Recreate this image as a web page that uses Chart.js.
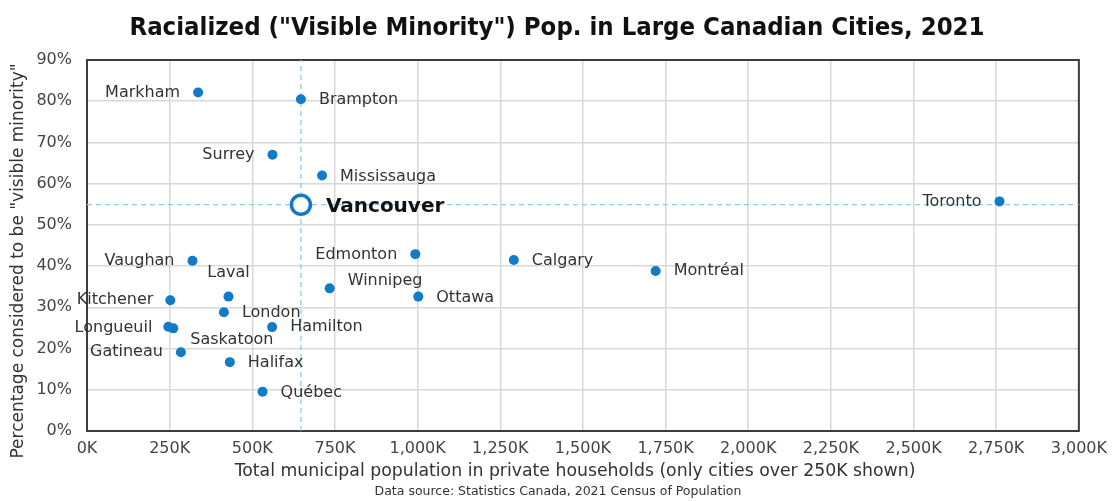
<!DOCTYPE html>
<html>
<head>
<meta charset="utf-8">
<script src="https://cdn.jsdelivr.net/npm/chart.js@4.4.1/dist/chart.umd.min.js"></script>
<style>
  body { margin: 0; background: #fff; }
  #wrap { width: 1115px; height: 501px; }
</style>
</head>
<body>
<div id="wrap"><canvas id="chart" width="1115" height="501"></canvas></div>
<script>
// Cities over 250K, population in thousands, share racialized (%)
const cities = ['Markham', 'Brampton', 'Surrey', 'Mississauga', 'Toronto', 'Edmonton', 'Calgary',
  'Montréal', 'Vaughan', 'Laval', 'Winnipeg', 'Ottawa', 'Kitchener', 'London', 'Longueuil',
  'Saskatoon', 'Hamilton', 'Gatineau', 'Halifax', 'Québec'];
const populationK = [336, 647, 561, 711, 2760, 993, 1291, 1720, 319, 428, 734, 1002, 252, 414, 246,
  261, 560, 284, 432, 531];
const visibleMinorityPct = [82.1, 80.5, 67.0, 62.0, 55.7, 42.9, 41.5, 38.8, 41.3, 32.6, 34.6, 32.6,
  31.7, 28.8, 25.3, 24.9, 25.2, 19.1, 16.7, 9.5];

// highlighted city
const focusCity = 'Vancouver';
const focusPopK = 647;
const focusPct = 54.9;

// axis ticks
const xTicksK = [0, 250, 500, 750, 1000, 1250, 1500, 1750, 2000, 2250, 2500, 2750, 3000];
const yTicksPct = [0, 10, 20, 30, 40, 50, 60, 70, 80, 90];

// how each name sits next to its dot: [textAlign, dx, dy]
const labelPlace = {
  Markham: ['right', -18, 0], Brampton: ['left', 18, 1], Surrey: ['right', -18, 0],
  Mississauga: ['left', 18, 1], Toronto: ['right', -18, 0], Edmonton: ['right', -18, 1],
  Calgary: ['left', 18, 1], 'Montréal': ['left', 18, 0], Vaughan: ['right', -18, 0],
  Laval: ['center', 0, -24], Winnipeg: ['left', 18, -8], Ottawa: ['left', 18, 1],
  Kitchener: ['right', -17, 0], London: ['left', 18, 1], Longueuil: ['right', -16, 1],
  Saskatoon: ['left', 17, 11], Hamilton: ['left', 18, 0], Gatineau: ['right', -18, 0],
  Halifax: ['left', 18, 1], 'Québec': ['left', 18, 1]
};

const BLUE = '#127bc7';
const FONT = '"DejaVu Sans", sans-serif';

const points = cities.map((c, i) => ({ x: populationK[i], y: visibleMinorityPct[i] }));

// frame, city names, titles
const decor = {
  id: 'decor',
  beforeDatasetsDraw(chart) {
    const a = chart.chartArea, ctx = chart.ctx;
    ctx.save();
    ctx.strokeStyle = '#3c3c3c';
    ctx.lineWidth = 2;
    ctx.strokeRect(a.left, a.top, a.right - a.left, a.bottom - a.top);
    ctx.restore();
  },
  afterDatasetsDraw(chart) {
    const ctx = chart.ctx;
    ctx.save();
    ctx.textBaseline = 'middle';
    ctx.fillStyle = '#333';
    ctx.font = '16px ' + FONT;
    chart.getDatasetMeta(0).data.forEach((pt, i) => {
      const p = labelPlace[cities[i]];
      ctx.textAlign = p[0];
      ctx.fillText(cities[i], pt.x + p[1], pt.y + p[2]);
    });
    const v = chart.getDatasetMeta(1).data[0];
    ctx.font = 'bold 20px ' + FONT;
    ctx.fillStyle = '#111';
    ctx.textAlign = 'left';
    ctx.fillText(focusCity, v.x + 25, v.y + 2);
    ctx.restore();
  },
  afterDraw(chart) {
    const ctx = chart.ctx;
    ctx.save();
    ctx.fillStyle = '#111';
    ctx.textAlign = 'center';
    ctx.textBaseline = 'middle';
    ctx.font = 'bold 25.5px "DejaVu Sans Condensed", sans-serif';
    ctx.fillText('Racialized ("Visible Minority") Pop. in Large Canadian Cities, 2021', 557, 28);

    ctx.fillStyle = '#333';
    ctx.font = '17.3px ' + FONT;
    ctx.fillText('Total municipal population in private households (only cities over 250K shown)', 575, 472);
    ctx.font = '12.5px ' + FONT;
    ctx.fillText('Data source: Statistics Canada, 2021 Census of Population', 558, 492);

    ctx.translate(19, 261);
    ctx.rotate(-Math.PI / 2);
    ctx.font = '17px ' + FONT;
    ctx.fillText('Percentage considered to be "visible minority"', 0, 0);
    ctx.restore();
  }
};

new Chart(document.getElementById('chart'), {
  type: 'scatter',
  data: {
    datasets: [
      {
        data: points,
        backgroundColor: BLUE,
        borderWidth: 0,
        pointRadius: 5,
        pointHoverRadius: 5,
        order: 0
      },
      {
        data: [{ x: focusPopK, y: focusPct }],
        backgroundColor: '#fff',
        borderColor: BLUE,
        borderWidth: 3.5,
        pointRadius: 9.5,
        order: 0
      },
      {
        type: 'line',
        data: [{ x: focusPopK, y: yTicksPct[0] }, { x: focusPopK, y: yTicksPct[yTicksPct.length - 1] }],
        borderColor: '#8fcaf0',
        borderWidth: 1.3,
        borderDash: [5, 4],
        pointRadius: 0,
        order: 2
      },
      {
        type: 'line',
        data: [{ x: xTicksK[0], y: focusPct }, { x: xTicksK[xTicksK.length - 1], y: focusPct }],
        borderColor: '#8fcaf0',
        borderWidth: 1.3,
        borderDash: [5, 4],
        pointRadius: 0,
        order: 2
      }
    ]
  },
  options: {
    responsive: false,
    animation: false,
    layout: { padding: { top: 60, right: 36, left: 0, bottom: 0 } },
    plugins: {
      legend: { display: false },
      tooltip: { enabled: false }
    },
    scales: {
      x: {
        type: 'linear',
        min: xTicksK[0],
        max: xTicksK[xTicksK.length - 1],
        afterBuildTicks: s => { s.ticks = xTicksK.map(v => ({ value: v })); },
        afterFit: s => { s.height = 70; },
        border: { display: false },
        grid: { color: '#d8d8d8', lineWidth: 1.5, drawTicks: false, tickLength: 0 },
        ticks: {
          color: '#444',
          padding: 8,
          maxRotation: 0,
          font: { family: FONT, size: 16 },
          callback: v => v.toLocaleString('en-US') + 'K'
        }
      },
      y: {
        min: yTicksPct[0],
        max: yTicksPct[yTicksPct.length - 1],
        afterBuildTicks: s => { s.ticks = yTicksPct.map(v => ({ value: v })); },
        afterFit: s => { s.width = 87; },
        border: { display: false },
        grid: { color: '#d8d8d8', lineWidth: 1.5, drawTicks: false, tickLength: 0 },
        ticks: {
          color: '#444',
          padding: 15,
          font: { family: FONT, size: 16 },
          callback: v => v + '%'
        }
      }
    }
  },
  plugins: [decor]
});
</script>
</body>
</html>
